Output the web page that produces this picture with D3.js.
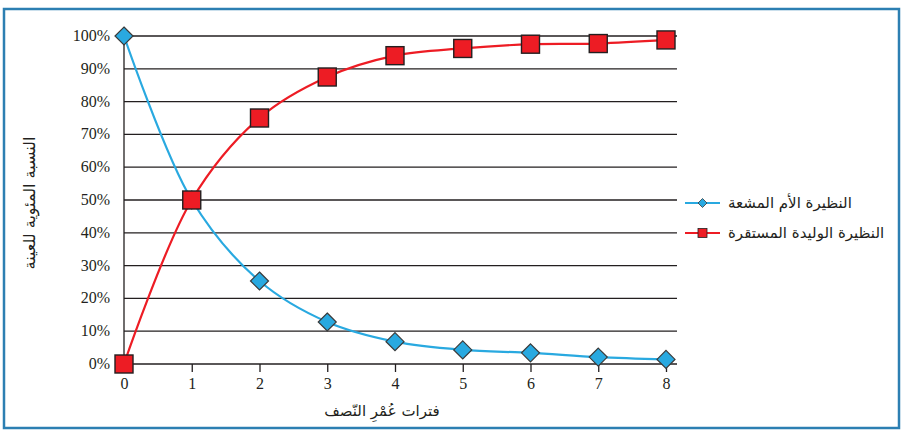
<!DOCTYPE html>
<html><head><meta charset="utf-8">
<script src="https://cdn.jsdelivr.net/npm/d3@7"></script>
<style>body{margin:0;background:#fff}</style>
</head><body>
<svg id="c" width="904" height="437"></svg>
<script>
const periods = [0,1,2,3,4,5,6,7,8];
const parentVals = [100,50,25.3,12.8,6.8,4.3,3.4,2.1,1.4];
const daughterVals = [0,50,75,87.5,94,96.2,97.5,97.7,98.8];
const yTicks = [0,10,20,30,40,50,60,70,80,90,100];
const seriesNames = ["النظيرة الأم المشعة","النظيرة الوليدة المستقرة"];
const xTitle = "فترات عُمْرِ النّصف";
const yTitle = "النسبة المئوية للعينة";

const svg = d3.select("#c");
svg.append("rect").attr("x",4).attr("y",9).attr("width",895).attr("height",419)
  .attr("fill","#fff").attr("stroke","#2c7fb2").attr("stroke-width",2.5);

const x = d3.scaleLinear().domain([0,8]).range([124,666]);
const y = d3.scaleLinear().domain([0,100]).range([364,36]);
const plotRight = 677;

// gridlines
svg.append("g").selectAll("line").data(yTicks.filter(d=>d>0)).join("line")
  .attr("x1",124).attr("x2",plotRight).attr("y1",d=>y(d)).attr("y2",d=>y(d))
  .attr("stroke","#231f20").attr("stroke-width",1.3);

// y labels
svg.append("g").selectAll("text").data(yTicks).join("text")
  .attr("x",110).attr("y",d=>y(d)+5).attr("text-anchor","end")
  .style("font-family","'Liberation Serif', serif").style("font-size","16px").attr("fill","#231f20")
  .text(d=>d+"%");

// x axis
const xg = svg.append("g").attr("transform","translate(0,364)")
  .call(d3.axisBottom(x).tickValues(periods).tickSize(8).tickPadding(6).tickFormat(d3.format("d")));
xg.select(".domain").attr("d",`M124,0H${plotRight}`).attr("stroke","#231f20").attr("stroke-width",1.3);
xg.selectAll(".tick line").attr("stroke","#231f20").attr("stroke-width",1.3);
xg.selectAll(".tick text").style("font-family","'Liberation Serif', serif").style("font-size","16px").attr("fill","#231f20");

// y axis line
svg.append("line").attr("x1",124).attr("x2",124).attr("y1",y(100)).attr("y2",y(0))
  .attr("stroke","#231f20").attr("stroke-width",1.3);

const line = d3.line().x((d,i)=>x(periods[i])).y(d=>y(d)).curve(d3.curveCatmullRom.alpha(0.5));
const blue = "#29a9e0", red = "#ed1c24";
svg.append("path").datum(parentVals).attr("d",line).attr("fill","none").attr("stroke",blue).attr("stroke-width",2.2);
svg.append("path").datum(daughterVals).attr("d",line).attr("fill","none").attr("stroke",red).attr("stroke-width",2.2);

const diamond = s => `M0,${-s}L${s},0L0,${s}L${-s},0Z`;
svg.append("g").selectAll("path").data(parentVals).join("path")
  .attr("transform",(d,i)=>`translate(${x(periods[i])},${y(d)})`)
  .attr("d",diamond(9)).attr("fill",blue).attr("stroke","#3a3a3a").attr("stroke-width",1.2);
svg.append("g").selectAll("rect").data(daughterVals).join("rect")
  .attr("x",(d,i)=>x(periods[i])-9).attr("y",d=>y(d)-9).attr("width",18).attr("height",18)
  .attr("fill",red).attr("stroke","#231f20").attr("stroke-width",1.4);

// legend
const leg = [{c:blue,t:seriesNames[0],y:203,m:"d"},{c:red,t:seriesNames[1],y:233,m:"s"}];
leg.forEach(l=>{
  svg.append("line").attr("x1",685).attr("x2",720).attr("y1",l.y).attr("y2",l.y).attr("stroke",l.c).attr("stroke-width",2);
  if(l.m==="d") svg.append("path").attr("transform",`translate(702.5,${l.y})`).attr("d",diamond(4.5)).attr("fill",l.c).attr("stroke","#3a3a3a").attr("stroke-width",0.8);
  else svg.append("rect").attr("x",698).attr("y",l.y-4.5).attr("width",9).attr("height",9).attr("fill",l.c).attr("stroke","#231f20").attr("stroke-width",0.8);
  svg.append("text").attr("x",728).attr("y",l.y+5).attr("text-anchor","start")
    .style("font-family","'DejaVu Sans'").style("font-size","15px").attr("fill","#231f20").text(l.t);
});

svg.append("text").attr("x",382).attr("y",416).attr("text-anchor","middle")
  .style("font-family","'DejaVu Sans'").style("font-size","15px").attr("fill","#231f20").text(xTitle);
svg.append("text").attr("transform","translate(35,203) rotate(-90)").attr("text-anchor","middle")
  .style("font-family","'DejaVu Sans'").style("font-size","16px").attr("fill","#231f20").text(yTitle);
</script>
</body></html>
